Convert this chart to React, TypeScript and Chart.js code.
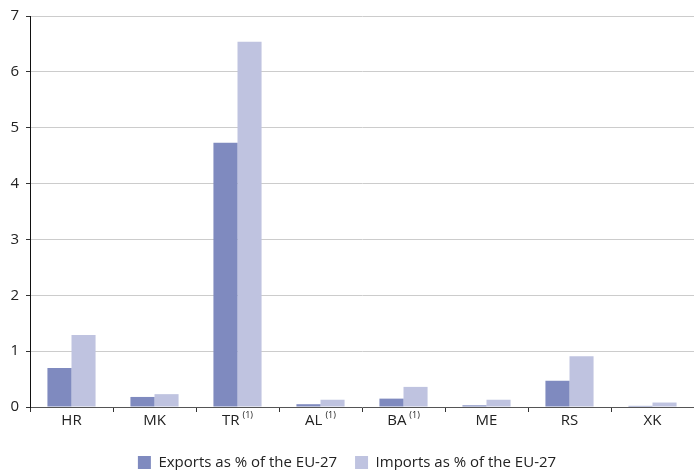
import React, { useEffect, useRef } from "react";
import { Chart, registerables } from "chart.js";

Chart.register(...registerables);

const categories = ["HR", "MK", "TR", "AL", "BA", "ME", "RS", "XK"];
const notes = ["", "", "(1)", "(1)", "(1)", "", "", ""];
const exportsPct = [0.7, 0.18, 4.73, 0.05, 0.15, 0.03, 0.47, 0.02];
const importsPct = [1.29, 0.23, 6.54, 0.13, 0.36, 0.13, 0.91, 0.08];
const yTicks = [0, 1, 2, 3, 4, 5, 6, 7];

const FONT = "'Open Sans', 'Noto Sans', sans-serif";
const TEXT = "#222222";

const xLabelPlugin = {
  id: "xLabels",
  afterDraw(chart: any) {
    const ctx = chart.ctx;
    const xs = chart.scales.x;
    const baseY = chart.chartArea.bottom + 14;
    ctx.save();
    ctx.fillStyle = TEXT;
    ctx.textBaseline = "middle";
    ctx.textAlign = "left";
    categories.forEach((c, i) => {
      ctx.font = `15px ${FONT}`;
      const w1 = ctx.measureText(c).width;
      let w2 = 0;
      const gap = 3;
      if (notes[i]) {
        ctx.font = `9px ${FONT}`;
        w2 = ctx.measureText(notes[i]).width + gap;
      }
      const cx = xs.getPixelForValue(i);
      const start = cx - (w1 + w2) / 2;
      ctx.font = `15px ${FONT}`;
      ctx.fillText(c, start, baseY);
      if (notes[i]) {
        ctx.font = `9px ${FONT}`;
        ctx.fillText(notes[i], start + w1 + gap, baseY - 6);
      }
    });
    ctx.restore();
  },
};

export default function App() {
  const ref = useRef<HTMLCanvasElement>(null);
  useEffect(() => {
    if (!ref.current) return;
    const chart = new Chart(ref.current, {
      type: "bar",
      data: {
        labels: categories,
        datasets: [
          {
            label: "Exports as % of the EU-27",
            data: exportsPct,
            backgroundColor: "#7f8abf",
            categoryPercentage: 0.58,
            barPercentage: 1,
          },
          {
            label: "Imports as % of the EU-27",
            data: importsPct,
            backgroundColor: "#bfc3e0",
            categoryPercentage: 0.58,
            barPercentage: 1,
          },
        ],
      },
      options: {
        responsive: false,
        animation: false,
        devicePixelRatio: 1,
        layout: { padding: { top: 15, right: 0, left: 0, bottom: -10 } },
        plugins: {
          tooltip: { enabled: false },
          legend: {
            position: "bottom",
            labels: {
              font: { family: FONT, size: 15 },
              color: TEXT,
              boxWidth: 13,
              boxHeight: 13,
              padding: 18,
            },
          },
        },
        scales: {
          x: {
            offset: true,
            grid: {
              display: true,
              drawOnChartArea: false,
              drawTicks: true,
              tickLength: 5,
              tickColor: "#333333",
              offset: true,
            },
            border: { display: true, color: "#555555", width: 1 },
            ticks: { display: false },
            afterFit(s: any) {
              s.height = 30;
            },
          },
          y: {
            min: 0,
            max: 7,
            afterBuildTicks(s: any) {
              s.ticks = yTicks.map((v) => ({ value: v }));
            },
            grid: {
              color: (c: any) => (c.tick && c.tick.value === 0 ? "rgba(0,0,0,0)" : "#cccccc"),
              lineWidth: 1,
              drawTicks: true,
              tickLength: 4,
              tickColor: "#333333",
            },
            border: { display: true, color: "#111111", width: 1 },
            ticks: {
              font: { family: FONT, size: 15 },
              color: TEXT,
              padding: 7,
            },
            afterFit(s: any) {
              s.width = 30;
            },
          },
        },
      },
      plugins: [xLabelPlugin],
    });
    return () => chart.destroy();
  }, []);
  return (
    <div style={{ position: "absolute", left: 0, top: 0, width: 694, height: 470, background: "#fff" }}>
      <canvas ref={ref} width={694} height={470} />
    </div>
  );
}
